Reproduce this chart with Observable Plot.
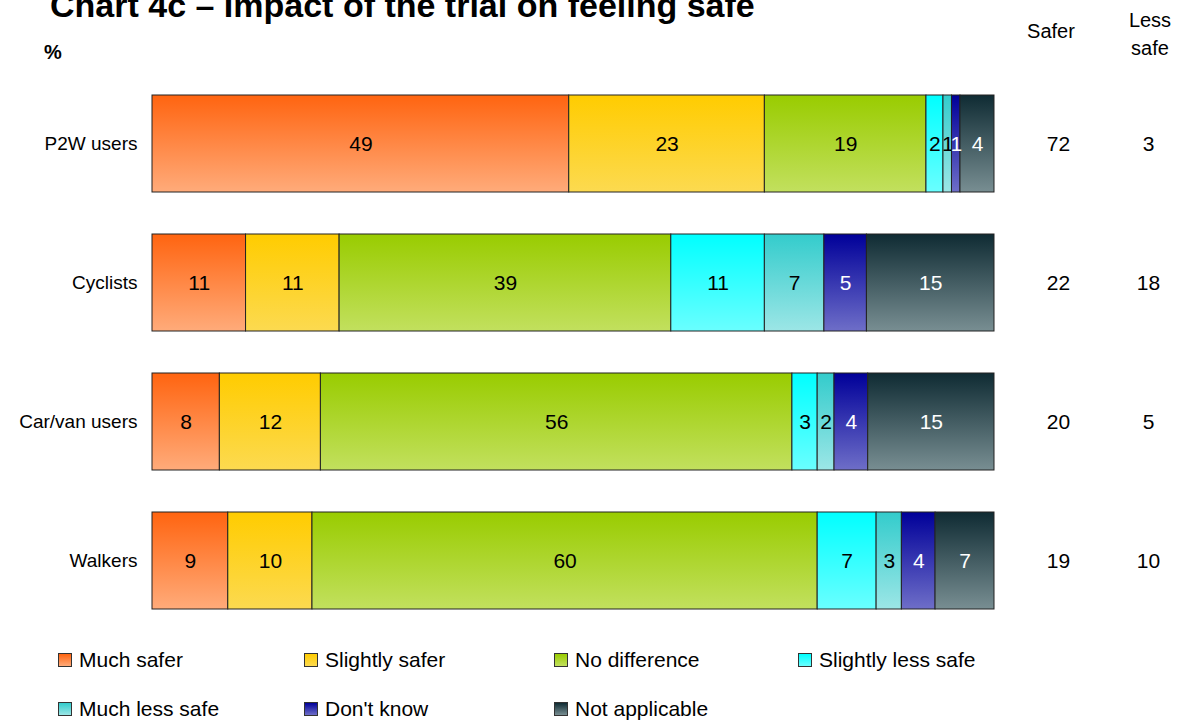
<!DOCTYPE html>
<html>
<head>
<meta charset="utf-8">
<script src="https://cdn.jsdelivr.net/npm/d3@7"></script>
<script src="https://cdn.jsdelivr.net/npm/@observablehq/plot@0.6"></script>
<style>
  body { margin: 0; background: #fff; font-family: Arial, "Liberation Sans", sans-serif; }
  #wrap { position: relative; width: 1178px; height: 721px; overflow: hidden; }
  #chart { position: absolute; left: 0; top: 0; }
  .abs { position: absolute; white-space: nowrap; color: #000; }
  .title { font-weight: bold; font-size: 34px; line-height: 34px; }
  .hdr { font-size: 20px; line-height: 20px; text-align: center; width: 80px; }
  .leg { font-size: 21px; line-height: 21px; }
  .sw { position: absolute; width: 12px; height: 12px; border: 1px solid #333; }
</style>
</head>
<body>
<div id="wrap">
  <div id="chart"></div>
</div>
<script>
const categories = ["P2W users", "Cyclists", "Car/van users", "Walkers"];
const series = ["Much safer", "Slightly safer", "No difference", "Slightly less safe", "Much less safe", "Don't know", "Not applicable"];
const muchSafer        = [49, 11, 8, 9];
const slightlySafer    = [23, 11, 12, 10];
const noDifference     = [19, 39, 56, 60];
const slightlyLessSafe = [2, 11, 3, 7];
const muchLessSafe     = [1, 7, 2, 3];
const dontKnow         = [1, 5, 4, 4];
const notApplicable    = [4, 15, 15, 7];
const saferTotals      = [72, 22, 20, 19];
const lessSafeTotals   = [3, 18, 5, 10];

const seriesValues = [muchSafer, slightlySafer, noDifference, slightlyLessSafe, muchLessSafe, dontKnow, notApplicable];
const gradients = [
  ["#FF6410", "#FFAB7A"],
  ["#FFCC00", "#FCDA50"],
  ["#99CC00", "#C2E05E"],
  ["#00FFFF", "#6AFFFF"],
  ["#33CCCC", "#9CE6E6"],
  ["#000099", "#6E6EC8"],
  ["#0F2B33", "#788E92"]
];
const labelColors = ["#000", "#000", "#000", "#000", "#000", "#fff", "#fff"];

const data = [];
seriesValues.forEach((vals, si) => {
  categories.forEach((c, ci) => data.push({cat: c, series: series[si], si, value: vals[ci]}));
});

function defsMark() {
  const defs = d3.create("svg:defs");
  gradients.forEach(([top, bottom], i) => {
    const g = defs.append("linearGradient").attr("id", "grad" + i)
      .attr("x1", 0).attr("y1", 0).attr("x2", 0).attr("y2", 1);
    g.append("stop").attr("offset", "0%").attr("stop-color", top);
    g.append("stop").attr("offset", "100%").attr("stop-color", bottom);
  });
  return defs.node();
}

const plot = Plot.plot({
  width: 1178,
  height: 655,
  marginTop: 53,
  marginBottom: 4,
  marginLeft: 152,
  marginRight: 184,
  style: {fontFamily: "Arial, 'Liberation Sans', sans-serif", fontSize: "19px", color: "#000", background: "transparent", overflow: "visible"},
  x: {axis: null},
  y: {domain: categories, padding: 0.3, label: null},
  color: {type: "identity"},
  marks: [
    defsMark,
    Plot.barX(data, Plot.stackX({
      x: "value", y: "cat", z: "series", offset: "normalize",
      fill: d => `url(#grad${d.si})`,
      stroke: "#222", strokeWidth: 1
    })),
    Plot.text(data, Plot.stackX({
      x: "value", y: "cat", z: "series", offset: "normalize",
      text: d => String(d.value),
      fill: d => labelColors[d.si],
      fontSize: 21
    })),
    Plot.axisY({tickSize: 0, tickPadding: 15, fontSize: 19, label: null}),
    Plot.text(categories, {
      y: d => d, text: (d, i) => String(saferTotals[i]),
      frameAnchor: "right", textAnchor: "middle", dx: 64, fontSize: 21
    }),
    Plot.text(categories, {
      y: d => d, text: (d, i) => String(lessSafeTotals[i]),
      frameAnchor: "right", textAnchor: "middle", dx: 154, fontSize: 21
    })
  ]
});
document.getElementById("chart").appendChild(plot);

const wrap = document.getElementById("wrap");
function addDiv(cls, text, left, top, extra) {
  const d = document.createElement("div");
  d.className = "abs " + cls;
  d.textContent = text;
  d.style.left = left + "px";
  d.style.top = top + "px";
  if (extra) Object.assign(d.style, extra);
  wrap.appendChild(d);
  return d;
}
addDiv("title", "Chart 4c \u2013 Impact of the trial on feeling safe", 50, -12);
addDiv("", "%", 44, 42, {fontWeight: "bold", fontSize: "20px", lineHeight: "20px"});
addDiv("hdr", "Safer", 1011, 21);
addDiv("hdr", "Less", 1110, 10);
addDiv("hdr", "safe", 1110, 38);

const legendPos = [[58, 650], [304, 650], [554, 650], [798, 650], [58, 699], [304, 699], [554, 699]];
series.forEach((s, i) => {
  const [lx, ty] = legendPos[i];
  const sw = document.createElement("div");
  sw.className = "sw";
  sw.style.left = lx + "px";
  sw.style.top = (ty + 3) + "px";
  sw.style.background = `linear-gradient(${gradients[i][0]}, ${gradients[i][1]})`;
  wrap.appendChild(sw);
  addDiv("leg", s, lx + 21, ty - 1);
});
</script>
</body>
</html>
